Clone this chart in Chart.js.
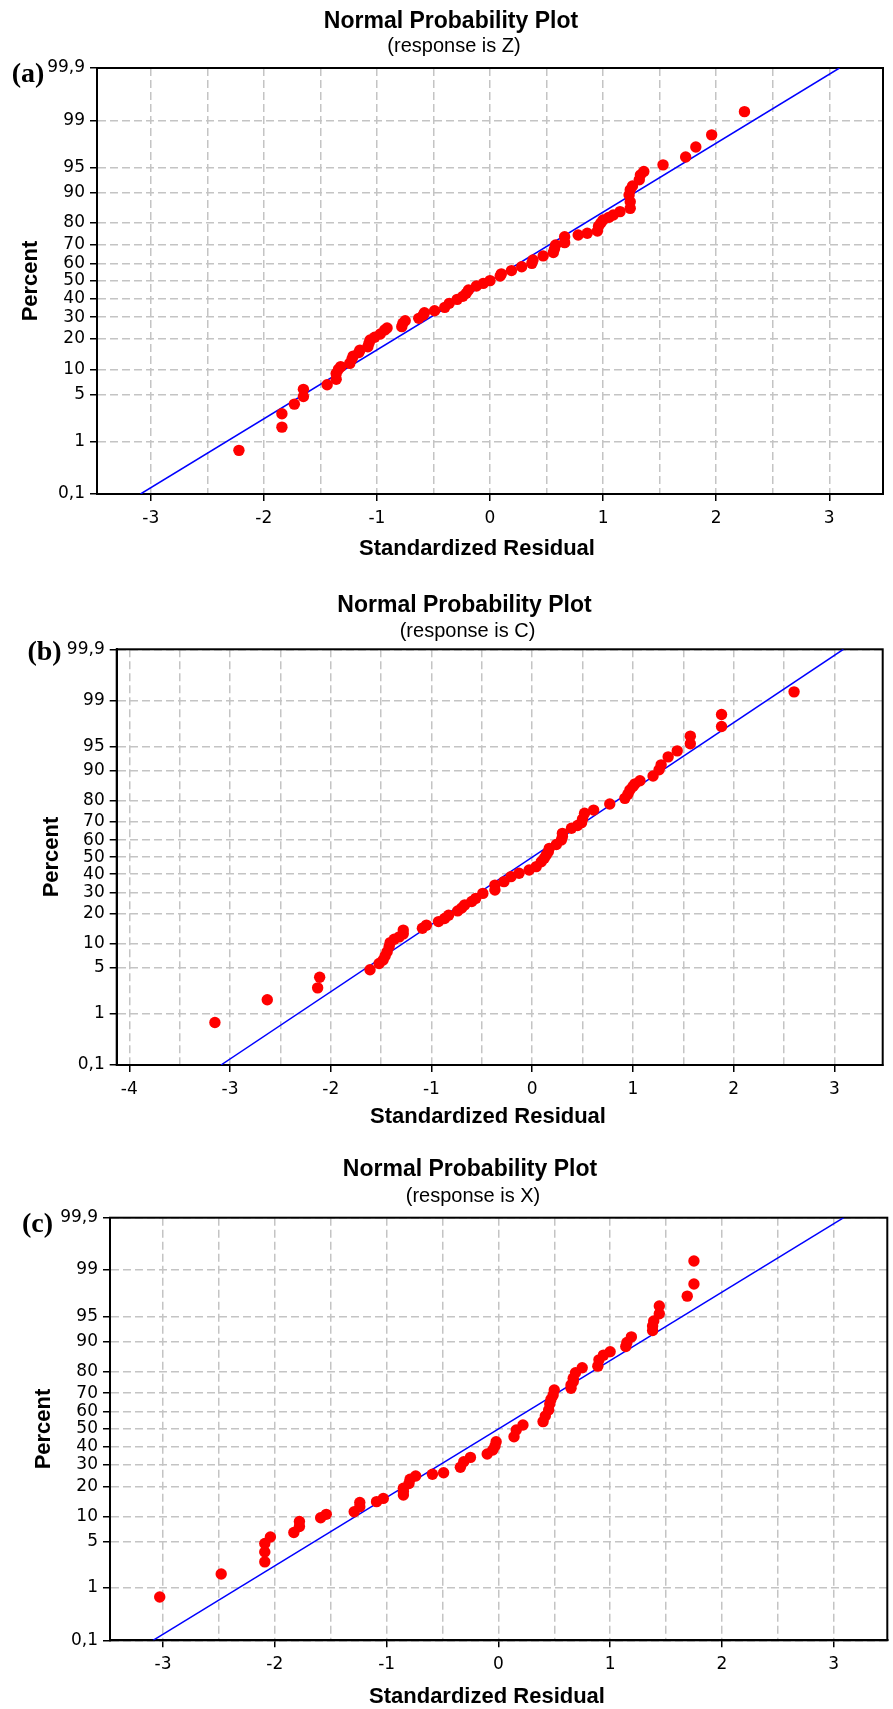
<!DOCTYPE html>
<html lang="en">
<head>
<meta charset="UTF-8">
<title>Normal Probability Plots</title>
<script src="https://cdn.jsdelivr.net/npm/chart.js"></script>
<style>
  body { margin: 0; background: #fff; }
  #page { position: relative; width: 893px; height: 1709px; overflow: hidden; font-family: "Liberation Sans", Arial, sans-serif; color: #000; }
  #page canvas { position: absolute; left: 0; }
  .txt { position: absolute; transform: translate(-50%, -50%); line-height: 1; white-space: nowrap; }
  .title { font-size: 23px; font-weight: bold; }
  .sub { font-size: 20px; }
  .axis { font-size: 22px; font-weight: bold; }
  .rot { transform: translate(-50%, -50%) rotate(-90deg); }
  .tag { font-family: "Liberation Serif", "Times New Roman", serif; font-size: 28px; font-weight: bold; }
</style>
</head>
<body>
<div id="page">
  <canvas id="chartA" width="893" height="580" style="top:0px"></canvas>
  <canvas id="chartB" width="893" height="560" style="top:580px"></canvas>
  <canvas id="chartC" width="893" height="569" style="top:1140px"></canvas>

  <div class="txt tag" style="left:28px;top:73px">(a)</div>
  <div class="txt title" style="left:451px;top:19.5px">Normal Probability Plot</div>
  <div class="txt sub" style="left:454px;top:44.5px">(response is Z)</div>
  <div class="txt axis rot" style="left:29.5px;top:281px">Percent</div>
  <div class="txt axis" style="left:477px;top:547.5px">Standardized Residual</div>

  <div class="txt tag" style="left:44.5px;top:651px">(b)</div>
  <div class="txt title" style="left:464.5px;top:604px">Normal Probability Plot</div>
  <div class="txt sub" style="left:467.5px;top:630px">(response is C)</div>
  <div class="txt axis rot" style="left:50.5px;top:856.5px">Percent</div>
  <div class="txt axis" style="left:488px;top:1116px">Standardized Residual</div>

  <div class="txt tag" style="left:37.5px;top:1223px">(c)</div>
  <div class="txt title" style="left:470px;top:1168px">Normal Probability Plot</div>
  <div class="txt sub" style="left:473px;top:1195px">(response is X)</div>
  <div class="txt axis rot" style="left:42.5px;top:1429px">Percent</div>
  <div class="txt axis" style="left:487px;top:1695.5px">Standardized Residual</div>
</div>
<script>
// percent ticks of the probability axis
const yTicks = [0.1, 1, 5, 10, 20, 30, 40, 50, 60, 70, 80, 90, 95, 99, 99.9];

// (a) response Z
const xTicksA = [-3, -2.5, -2, -1.5, -1, -0.5, 0, 0.5, 1, 1.5, 2, 2.5, 3];
const residA = [-2.22, -1.84, -1.84, -1.73, -1.65, -1.65, -1.44, -1.36, -1.36, -1.34, -1.32, -1.24, -1.22, -1.21, -1.16, -1.15,
  -1.08, -1.07, -1.06, -1.02, -0.97, -0.93, -0.91, -0.78, -0.77, -0.75, -0.63, -0.59, -0.58, -0.49, -0.40, -0.36, -0.29, -0.24,
  -0.21, -0.19, -0.12, -0.06, 0.00, 0.09, 0.10, 0.19, 0.28, 0.37, 0.38, 0.47, 0.56, 0.57, 0.58, 0.66, 0.66, 0.78, 0.86, 0.95,
  0.96, 0.98, 1.00, 1.05, 1.09, 1.15, 1.24, 1.24, 1.23, 1.24, 1.26, 1.32, 1.33, 1.36, 1.53, 1.73, 1.82, 1.96, 2.25];
const pctA = [0.7, 1.7, 2.7, 3.7, 4.7, 5.8, 6.6, 7.7, 9.0, 10.0, 10.7, 11.6, 12.9, 13.8, 15.0, 15.8,
  17.0, 18.3, 19.6, 20.7, 22.1, 23.9, 24.8, 25.4, 27.0, 28.2, 29.4, 31.1, 32.3, 33.3, 35.1, 37.3, 39.5, 41.2,
  42.9, 44.8, 47.1, 48.6, 50.2, 52.9, 54.1, 56.0, 58.2, 60.1, 62.0, 64.2, 66.0, 67.9, 69.9, 71.1, 74.0, 74.8, 75.6, 76.6,
  78.7, 80.0, 81.2, 82.2, 83.1, 84.3, 85.4, 87.5, 89.4, 90.7, 91.6, 92.9, 93.8, 94.4, 95.4, 96.4, 97.4, 98.3, 99.3];
const fitA = [[-3.09, 0.1], [3.09, 99.9]];

// (b) response C
const xTicksB = [-4, -3.5, -3, -2.5, -2, -1.5, -1, -0.5, 0, 0.5, 1, 1.5, 2, 2.5, 3];
const residB = [-3.15, -2.63, -2.13, -2.11, -1.61, -1.52, -1.48, -1.46, -1.44, -1.42, -1.41, -1.37, -1.32, -1.28, -1.28, -1.09,
  -1.05, -0.93, -0.87, -0.83, -0.74, -0.70, -0.67, -0.60, -0.56, -0.49, -0.37, -0.37, -0.28, -0.21, -0.13, -0.03, 0.04,
  0.09, 0.12, 0.14, 0.16, 0.17, 0.24, 0.29, 0.30, 0.30, 0.39, 0.45, 0.49, 0.50, 0.52, 0.61, 0.77, 0.92, 0.95, 0.97, 1.00,
  1.02, 1.07, 1.20, 1.26, 1.28, 1.35, 1.44, 1.57, 1.57, 1.88, 1.88, 2.60];
const pctB = [0.7, 1.7, 2.6, 3.7, 4.7, 5.7, 6.3, 7.1, 8.0, 9.2, 10.2, 11.1, 11.8, 12.7, 13.9, 14.5,
  15.6, 16.9, 18.1, 19.4, 21.2, 22.5, 23.9, 25.5, 27.0, 29.5, 31.3, 33.9, 35.8, 38.6, 40.5, 42.4, 44.4,
  47.3, 49.3, 51.3, 53.2, 55.2, 57.5, 60.1, 62.0, 63.8, 66.6, 68.1, 69.6, 71.5, 74.3, 75.8, 78.5, 80.9, 82.5, 84.1, 85.3,
  86.2, 87.2, 88.6, 90.3, 91.5, 93.2, 94.3, 95.4, 96.4, 97.4, 98.3, 99.3];
const fitB = [[-3.09, 0.1], [3.09, 99.9]];

// (c) response X
const xTicksC = [-3, -2.5, -2, -1.5, -1, -0.5, 0, 0.5, 1, 1.5, 2, 2.5, 3];
const residC = [-3.03, -2.48, -2.09, -2.09, -2.09, -2.04, -1.83, -1.78, -1.78, -1.59, -1.54, -1.29, -1.24, -1.24, -1.09, -1.03,
  -0.85, -0.85, -0.85, -0.80, -0.79, -0.74, -0.59, -0.49, -0.34, -0.31, -0.25, -0.10, -0.05, -0.03, -0.02, 0.14, 0.16,
  0.22, 0.40, 0.42, 0.45, 0.46, 0.47, 0.49, 0.50, 0.65, 0.65, 0.67, 0.67, 0.69, 0.75, 0.89, 0.90, 0.94, 1.00, 1.14, 1.15,
  1.19, 1.38, 1.38, 1.39, 1.44, 1.44, 1.69, 1.75, 1.75];
const pctC = [0.7, 1.7, 2.6, 3.6, 4.7, 5.7, 6.5, 7.7, 8.8, 9.7, 10.6, 11.3, 12.8, 14.1, 14.4, 15.5,
  16.7, 18.0, 19.3, 21.3, 23.1, 24.6, 25.4, 26.1, 28.8, 31.6, 33.9, 35.7, 37.9, 40.2, 42.6, 45.5, 49.4,
  52.3, 54.3, 57.5, 60.9, 64.3, 66.7, 69.0, 71.6, 72.4, 74.0, 75.6, 77.1, 79.5, 81.5, 82.1, 84.4, 86.0, 87.1, 88.6, 89.7,
  91.1, 92.5, 93.4, 94.3, 95.4, 96.4, 97.4, 98.3, 99.3];
const fitC = [[-3.09, 0.1], [3.09, 99.9]];

// inverse normal cdf (Acklam)
function probit(p) {
  const a = [-39.69683028665376, 220.9460984245205, -275.9285104469687, 138.3577518672690, -30.66479806614716, 2.506628277459239];
  const b = [-54.47609879822406, 161.5858368580409, -155.6989798598866, 66.80131188771972, -13.28068155288572];
  const c = [-0.007784894002430293, -0.3223964580411365, -2.400758277161838, -2.549732539343734, 4.374664141464968, 2.938163982698783];
  const d = [0.007784695709041462, 0.3224671290700398, 2.445134137142996, 3.754408661907416];
  const lo = 0.02425;
  let q, r;
  if (p < lo) {
    q = Math.sqrt(-2 * Math.log(p));
    return (((((c[0]*q+c[1])*q+c[2])*q+c[3])*q+c[4])*q+c[5]) / ((((d[0]*q+d[1])*q+d[2])*q+d[3])*q+1);
  }
  if (p > 1 - lo) {
    q = Math.sqrt(-2 * Math.log(1 - p));
    return -(((((c[0]*q+c[1])*q+c[2])*q+c[3])*q+c[4])*q+c[5]) / ((((d[0]*q+d[1])*q+d[2])*q+d[3])*q+1);
  }
  q = p - 0.5; r = q * q;
  return (((((a[0]*r+a[1])*r+a[2])*r+a[3])*r+a[4])*r+a[5])*q / (((((b[0]*r+b[1])*r+b[2])*r+b[3])*r+b[4])*r+1);
}

// normal probability axis: values are percents, spaced by their z-score
class ProbitScale extends Chart.Scale {
  static id = 'probit';
  static defaults = {};
  determineDataLimits() {
    this.min = this.options.min;
    this.max = this.options.max;
  }
  buildTicks() {
    return [];
  }
  configure() {
    super.configure();
    this._zmin = probit(this.min / 100);
    this._zmax = probit(this.max / 100);
  }
  getLabelForValue(v) {
    return String(v);
  }
  getPixelForValue(v) {
    const z = probit(v / 100);
    return this.getPixelForDecimal((z - this._zmin) / (this._zmax - this._zmin));
  }
  getValueForPixel(px) {
    const z = this._zmin + this.getDecimalForPixel(px) * (this._zmax - this._zmin);
    let lo = 0.0001, hi = 99.9999;
    for (let i = 0; i < 50; i++) {
      const m = (lo + hi) / 2;
      if (probit(m / 100) < z) lo = m; else hi = m;
    }
    return (lo + hi) / 2;
  }
}
Chart.register(ProbitScale);

// box round the plot area
const framePlugin = {
  id: 'frame',
  beforeDatasetsDraw(chart) {
    const { ctx, chartArea: a } = chart;
    ctx.save();
    ctx.strokeStyle = '#000';
    ctx.lineWidth = 2;
    ctx.strokeRect(a.left, a.top, a.right - a.left, a.bottom - a.top);
    ctx.restore();
  }
};

const tickFont = { family: 'DejaVu Sans', size: 17 };
const gridColor = '#c4c4c4';

function makeChart(id, resid, pct, fit, xTicks, xMin, xMax, yWidth, pad) {
  const pts = resid.map((x, i) => ({ x: x, y: pct[i] }));
  const line = fit.map(p => ({ x: p[0], y: p[1] }));
  return new Chart(document.getElementById(id), {
    type: 'scatter',
    data: {
      datasets: [
        { type: 'line', data: line, borderColor: '#0000ff', borderWidth: 1.5, pointRadius: 0, fill: false, order: 2 },
        { data: pts, backgroundColor: '#ff0000', borderWidth: 0, pointRadius: 5.7, order: 1 }
      ]
    },
    options: {
      responsive: false,
      animation: false,
      layout: { padding: pad },
      plugins: { legend: { display: false }, tooltip: { enabled: false } },
      scales: {
        x: {
          type: 'linear',
          min: xMin,
          max: xMax,
          afterBuildTicks: s => { s.ticks = xTicks.map(v => ({ value: v })); },
          afterFit: s => { s.height = 40; },
          ticks: {
            callback: v => Number.isInteger(v) ? String(v) : '',
            font: tickFont, color: '#000', padding: 7, maxRotation: 0, autoSkip: false
          },
          grid: {
            color: gridColor, lineWidth: 1.5, tickLength: 7, tickWidth: 1.5, tickBorderDash: [],
            tickColor: c => Number.isInteger(c.tick.value) ? '#000' : 'rgba(0,0,0,0)'
          },
          border: { dash: [8, 4], color: '#000', width: 2 }
        },
        y: {
          type: 'probit',
          min: 0.1,
          max: 99.9,
          afterBuildTicks: s => { s.ticks = yTicks.map(v => ({ value: v })); },
          afterFit: s => { s.width = yWidth; },
          ticks: {
            callback: v => String(v).replace('.', ','),
            font: tickFont, color: '#000', padding: 5, autoSkip: false
          },
          grid: { color: gridColor, lineWidth: 1.5, tickLength: 7, tickWidth: 1.5, tickBorderDash: [], tickColor: '#000' },
          border: { dash: [8, 4], color: '#000', width: 2 }
        }
      }
    },
    plugins: [framePlugin]
  });
}

makeChart('chartA', residA, pctA, fitA, xTicksA, -3.475, 3.475, 97, { top: 68, left: 0, right: 10, bottom: 46 });
makeChart('chartB', residB, pctB, fitB, xTicksB, -4.125, 3.48, 116.7, { top: 69.3, left: 0, right: 10.3, bottom: 35 });
makeChart('chartC', residC, pctC, fitC, xTicksC, -3.475, 3.48, 110, { top: 77.7, left: 0, right: 3, bottom: 28.7 });
</script>
</body>
</html>
